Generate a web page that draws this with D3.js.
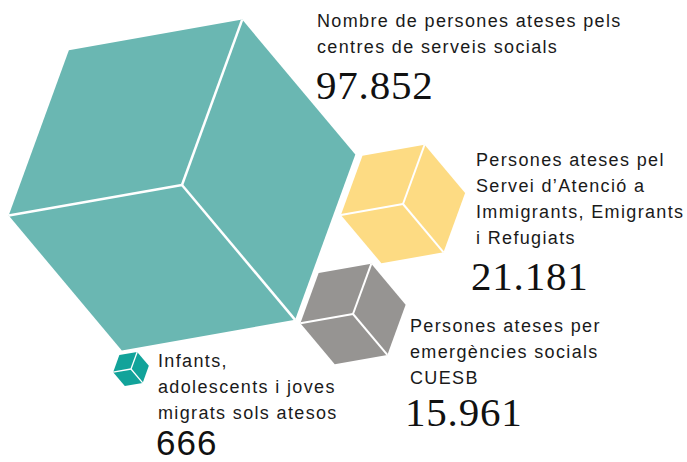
<!DOCTYPE html>
<html>
<head>
<meta charset="utf-8">
<script src="https://cdn.jsdelivr.net/npm/d3@7"></script>
<style>
  body { margin: 0; background: #fff; }
  .lbl { font-family: "Liberation Sans", Arial, sans-serif; font-size: 18px; letter-spacing: 1.35px; fill: #1a1a1a; }
  .num { font-family: "Liberation Serif", "Times New Roman", serif; font-size: 41px; letter-spacing: 0.8px; fill: #111; }
  .num.sans { font-family: "Liberation Sans", Arial, sans-serif; font-size: 35px; letter-spacing: 1px; }
</style>
</head>
<body>
<svg></svg>
<script>
// data
var categories = ["centres", "sairefi", "cuesb", "infants"];
var values = [97852, 21181, 15961, 666];
var labels = [
  ["Nombre de persones ateses pels", "centres de serveis socials"],
  ["Persones ateses pel", "Servei d\u2019Atenció a", "Immigrants, Emigrants", "i Refugiats"],
  ["Persones ateses per", "emergències socials", "CUESB"],
  ["Infants,", "adolescents i joves", "migrats sols atesos"]
];
var colors = ["#6ab7b2", "#fddb83", "#969492", "#12a39a"];

// layout (cube centre, label anchor)
var layout = [
  {cx: 182, cy: 185, lx: 317, ly: 27, nx: 316, ny: 99, sans: false},
  {cx: 403, cy: 204, lx: 476, ly: 166, nx: 471, ny: 290, sans: false},
  {cx: 353, cy: 314, lx: 410, ly: 332, nx: 405, ny: 426, sans: false},
  {cx: 131, cy: 369, lx: 158, ly: 367, nx: 156, ny: 455, sans: true}
];

var width = 687, height = 462;
var svg = d3.select("svg").attr("width", width).attr("height", height);

var rScale = d3.scalePow().exponent(0.79)
  .domain([0, d3.max(values)])
  .range([15, 176]);

var fmt = d3.formatLocale({decimal: ",", thousands: ".", grouping: [3], currency: ["", "€"]}).format(",d");

var rot = -70 * Math.PI / 180;
function vertex(d, i, k) {
  var a = rot + k * Math.PI / 3;
  var r = rScale(d);
  return [layout[i].cx + r * Math.cos(a), layout[i].cy + r * Math.sin(a)];
}

var cubes = svg.selectAll("g.cube")
  .data(values)
  .enter()
  .append("g")
  .classed("cube", true);

cubes.append("path")
  .attr("d", function(d, i) {
    var pts = d3.range(6).map(function(k) { return vertex(d, i, k); });
    return d3.line()(pts) + "Z";
  })
  .attr("fill", function(d, i) { return colors[i]; });

// inner edges: centre to top, lower-right and left corners
cubes.each(function(d, i) {
  var g = d3.select(this);
  [0, 2, 4].forEach(function(k) {
    var p = vertex(d, i, k);
    g.append("line")
      .attr("x1", layout[i].cx).attr("y1", layout[i].cy)
      .attr("x2", p[0]).attr("y2", p[1])
      .attr("stroke", "#fff")
      .attr("stroke-width", d > 50000 ? 2.5 : (d > 5000 ? 2 : 1.3));
  });
});

var texts = svg.selectAll("g.txt")
  .data(values)
  .enter()
  .append("g")
  .classed("txt", true);

texts.append("text")
  .classed("lbl", true)
  .attr("x", function(d, i) { return layout[i].lx; })
  .attr("y", function(d, i) { return layout[i].ly; })
  .selectAll("tspan")
  .data(function(d, i) { return labels[i].map(function(t) { return {t: t, x: layout[i].lx}; }); })
  .enter()
  .append("tspan")
  .attr("x", function(d) { return d.x; })
  .attr("dy", function(d, j) { return j == 0 ? 0 : 26; })
  .text(function(d) { return d.t; });

texts.append("text")
  .attr("class", function(d, i) { return layout[i].sans ? "num sans" : "num"; })
  .attr("x", function(d, i) { return layout[i].nx; })
  .attr("y", function(d, i) { return layout[i].ny; })
  .text(function(d) { return fmt(d); });
</script>
</body>
</html>
